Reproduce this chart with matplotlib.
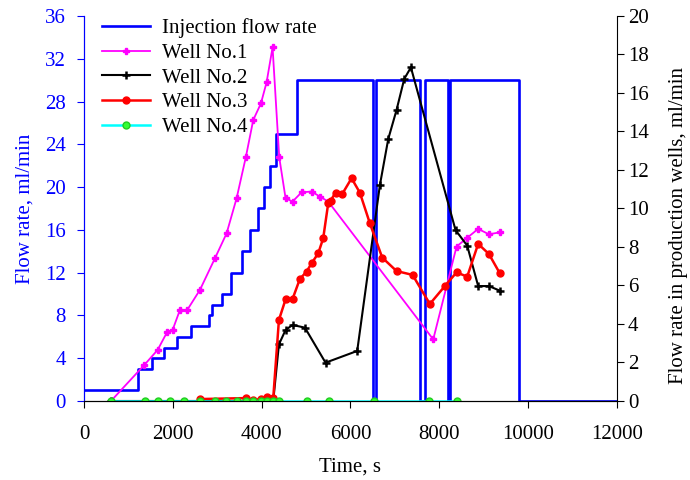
import numpy as np
import matplotlib.pyplot as plt

plt.rcParams['font.family'] = ['Liberation Serif', 'DejaVu Serif']

# injection schedule (step function, ml/min)
inj_t = [0, 1223, 1523, 1809, 2086, 2409, 2814, 2889, 3100, 3309, 3550, 3737,
         3925, 4052, 4187, 4315, 4787, 6510, 6570, 7570, 7690, 8200, 8240, 9800, 12000]
inj_q = [1, 3, 4, 5, 6, 7, 8, 9, 10, 12, 14, 16,
         18, 20, 22, 25, 30, 0, 30, 0, 30, 0, 30, 0, 0]

# production wells (ml/min)
w1_t = [608, 1358, 1658, 1877, 1996, 2161, 2326, 2611, 2957, 3212, 3437, 3647,
        3812, 3985, 4112, 4247, 4397, 4540, 4697, 4900, 5125, 5312, 5500,
        7865, 8390, 8615, 8877, 9118, 9365]
w1_q = [0, 1.87, 2.65, 3.6, 3.69, 4.73, 4.73, 5.77, 7.45, 8.71, 10.53, 12.69,
        14.6, 15.46, 16.55, 18.37, 12.66, 10.53, 10.36, 10.84, 10.88, 10.62, 10.36,
        3.2, 8.02, 8.45, 8.94, 8.66, 8.76]

w2_t = [608, 4262, 4390, 4540, 4697, 4975, 5440, 6153, 6664, 6852, 7039, 7212,
        7362, 8367, 8630, 8877, 9118, 9365]
w2_q = [0, 0, 2.94, 3.69, 3.95, 3.81, 1.99, 2.6, 11.22, 13.61, 15.12, 16.73,
        17.33, 8.88, 8.07, 5.97, 5.97, 5.73]

w3_t = [2611, 3640, 3812, 3980, 4112, 4262, 4390, 4540, 4697, 4862, 5012, 5125,
        5275, 5387, 5500, 5553, 5665, 5815, 6026, 6213, 6438, 6716, 7039, 7399,
        7789, 8127, 8390, 8630, 8877, 9118, 9365]
w3_q = [0.1, 0.15, 0.05, 0.1, 0.2, 0.15, 4.21, 5.28, 5.3, 6.34, 6.72, 7.15,
        7.67, 8.45, 10.27, 10.41, 10.82, 10.75, 11.57, 10.82, 9.23, 7.45, 6.75, 6.55,
        5.04, 5.97, 6.68, 6.46, 8.16, 7.64, 6.63]

w4_t = [608, 1373, 1658, 1943, 2251, 2611, 2957, 3204, 3437, 3647, 3812, 3978,
        4112, 4247, 4390, 5027, 5516, 6521, 7767, 8390]
w4_q = [0.02] * len(w4_t)

fig = plt.figure(figsize=(6.9, 4.8), dpi=100)
ax1 = fig.add_axes([0.1217, 0.1646, 0.894 - 0.1217, 0.9667 - 0.1646])
ax2 = ax1.twinx()

l0, = ax1.plot(inj_t, inj_q, drawstyle='steps-post', color='#0000ff', lw=1.9,
               label='Injection flow rate')

l1, = ax2.plot(w1_t, w1_q, color='#ff00ff', lw=1.3, marker='P', ms=4,
               label='Well No.1')
l2, = ax2.plot(w2_t, w2_q, color='black', lw=1.5, marker='+', ms=6, mew=1.8,
               label='Well No.2')
l3, = ax2.plot(w3_t, w3_q, color='#ff0000', lw=1.8, marker='o', ms=5,
               label='Well No.3')
l4, = ax2.plot(w4_t, w4_q, color='#00ffff', lw=1.8, marker='o', ms=5,
               mfc='#33ff33', mec='#22cc22', label='Well No.4')

ax1.set_xlim(0, 12000)
ax1.set_ylim(0, 36)
ax2.set_ylim(0, 20)
ax1.set_xticks(np.arange(0, 12001, 2000))
ax1.set_yticks(np.arange(0, 37, 4))
ax2.set_yticks(np.arange(0, 21, 2))

for ax in (ax1, ax2):
    ax.spines['top'].set_visible(False)
    ax.tick_params(direction='out', length=5, labelsize=15)
ax1.tick_params(axis='x', pad=12)
ax1.tick_params(axis='y', pad=8, colors='#0000ff')
ax2.tick_params(axis='y', pad=3)
ax1.spines['left'].set_color('#0000ff')
ax2.spines['left'].set_color('#0000ff')
ax1.spines['right'].set_visible(False)

ax1.set_xlabel('Time, s', fontsize=15)
ax1.set_ylabel('Flow rate, ml/min', fontsize=15, color='#0000ff')
ax2.set_ylabel('Flow rate in production wells, ml/min', fontsize=15)
ax1.xaxis.set_label_coords(0.5, -0.148)
ax1.yaxis.set_label_coords(-0.092, 0.5)
ax2.yaxis.set_label_coords(1.097, 0.457)

ax2.legend(handles=[l0, l1, l2, l3, l4], loc='upper left', frameon=False,
           fontsize=15, handlelength=2.26, handletextpad=0.58,
           labelspacing=0.25, borderaxespad=0, bbox_to_anchor=(0.019, 1.016))

fig.savefig('out.png', dpi=100)
